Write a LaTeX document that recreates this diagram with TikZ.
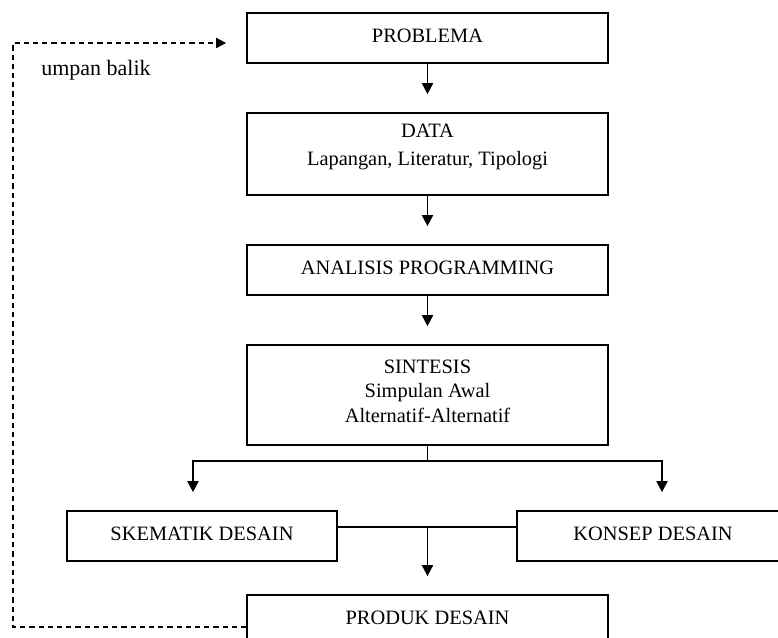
\documentclass[tikz,border=0pt]{standalone}
\usepackage{fontspec}
\setmainfont{Liberation Serif}
\usetikzlibrary{calc}
\usetikzlibrary{positioning}
\usetikzlibrary{arrows.meta}

\tikzset{
    stage/.style={draw, line width=0.85pt, minimum width=180.5pt, inner sep=0pt,
        align=center, text depth=2.5pt, font=\fontsize{10.2}{12.3}\selectfont},
    flow/.style={line width=0.9pt, -{Triangle[width=5.5pt,length=5.5pt]}, shorten >=9pt},
    feedback/.style={line width=0.85pt, dash pattern=on 2.6pt off 2pt,
        -{Triangle[width=5pt,length=5pt]}, shorten >=10pt}
}

\begin{document}
\begin{tikzpicture}[x=0.5pt, y=-0.5pt]
            \useasboundingbox (0,0) rectangle (778,638);

            % Main column
            \node[stage, minimum height=25pt] (problema) at (427.5,38) {PROBLEMA};
            \node[stage, minimum height=41pt, text depth=9pt] (data) at (427.5,154)
                {DATA\\[1.5pt]Lapangan, Literatur, Tipologi};
            \node[stage, minimum height=25pt] (analisis) at (427.5,270) {ANALISIS PROGRAMMING};
            \node[stage, minimum height=50pt, text depth=4pt] (sintesis) at (427.5,395)
                {SINTESIS\\Simpulan Awal\\Alternatif-Alternatif};

            % Side boxes
            \node[stage, minimum width=135pt, minimum height=25pt] (skematik) at (202,536) {SKEMATIK DESAIN};
            \node[stage, minimum width=136pt, minimum height=25pt] (konsep) at (653,536) {KONSEP DESAIN};

            % Result
            \node[stage, minimum height=25pt] (produk) at (427.5,620) {PRODUK DESAIN};

            % Arrows down
            \draw[flow] (problema) -- (data);
            \draw[flow] (data) -- (analisis);
            \draw[flow] (analisis) -- (sintesis);

            % Split to both sides
            \coordinate (split) at (427.5,461);
            \draw[line width=0.9pt] (sintesis) -- (split);
            \draw[flow] (split) -| ([xshift=-4.5pt]skematik.north);
            \draw[flow] (split) -| ([xshift=4.5pt]konsep.north);

            % Join to product
            \coordinate (join) at (427.5,527);
            \draw[line width=0.9pt] (skematik.east |- join) -- (konsep.west |- join);
            \draw[flow] (join) -- (produk.north);

            % Feedback loop
            \coordinate (fbtop) at (13,43);
            \draw[feedback] ([yshift=-3.5pt]produk.west) -| (fbtop) -- (fbtop -| problema.west);
            \node[font=\fontsize{11}{13}\selectfont] (umpan) at (96,70) {umpan balik};

        \end{tikzpicture}
\end{document}
